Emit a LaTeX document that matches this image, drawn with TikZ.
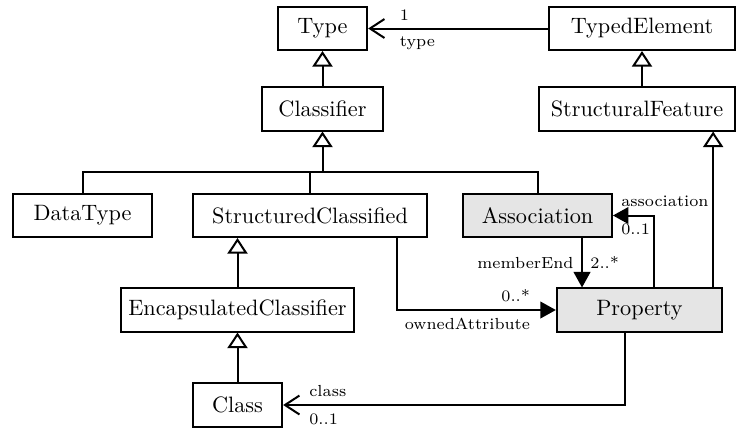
\documentclass[tikz,border=0pt]{standalone}
\usepackage{tikz}
\usetikzlibrary{arrows.meta}

\begin{document}
\begin{tikzpicture}[x=0.0158cm,y=-0.0158cm,
        umlbox/.style={draw,line width=0.9pt,minimum height=0.68cm,inner sep=0pt},
        dark/.style={umlbox,fill=gray!20},
        conn/.style={line width=0.9pt},
        gen/.style={conn,-{Triangle[open,length=7pt,width=9pt,fill=white]}},
        navi/.style={conn,-{Straight Barb[length=6.5pt,width=8.5pt]}},
        fillarr/.style={conn,-{Triangle[length=7pt,width=7.5pt]}},
        lbl/.style={font=\fontsize{7.2pt}{8.6pt}\selectfont}]
    \useasboundingbox (0,0) rectangle (738,428);

    \node[umlbox,minimum width=1.41cm] (type) at (322.5,28.5) {Type};
    \node[umlbox,minimum width=2.94cm] (typedel) at (642,28.5) {TypedElement};
    \node[umlbox,minimum width=1.91cm] (classif) at (322.5,109) {Classifier};
    \node[umlbox,minimum width=3.10cm] (structf) at (637,109) {StructuralFeature};
    \node[umlbox,minimum width=2.20cm] (datatype) at (82.5,215.5) {DataType};
    \node[umlbox,minimum width=3.70cm] (structcl) at (310,215.5) {StructuredClassified};
    \node[dark,minimum width=2.35cm] (assoc) at (537.5,215.5) {Association};
    \node[umlbox,minimum width=3.68cm] (encap) at (237.5,310) {EncapsulatedClassifier};
    \node[dark,minimum width=2.61cm] (prop) at (639.5,310) {Property};
    \node[umlbox,minimum width=1.41cm] (class) at (237.5,405) {Class};

    \coordinate (bus) at (322.5,172);
    \coordinate (sfa) at ([xshift=-0.158cm]prop.north east);
    \coordinate (asa) at ([xshift=0.229cm]prop.north);
    \coordinate (mea) at ([xshift=0.703cm]assoc.south);
    \coordinate (owa) at ([xshift=1.375cm]structcl.south);
    \coordinate (cla) at ([xshift=-0.229cm]prop.south);

    \draw[navi] (typedel.west) -- (type.east)
        node[lbl,pos=0.87,above right] (typemult) {1}
        node[lbl,pos=0.87,below right] (typerole) {type};
    \draw[gen] (classif.north) -- (type.south);
    \draw[gen] (structf.north -| typedel.south) -- (typedel.south);

    \draw[conn] (datatype.north) |- (bus) -| (assoc.north);
    \draw[conn] (structcl.north) -- (structcl.north |- bus);
    \draw[gen] (bus) -- (classif.south);
    \draw[gen] (encap.north) -- (encap.north |- structcl.south);
    \draw[gen] (class.north) -- (encap.south);
    \draw[gen] (sfa) -- (sfa |- structf.south);

    \draw[fillarr] (asa) |- (assoc.east)
        node[lbl,pos=1,above right] (assocrole) {association}
        node[lbl,pos=1,below right] (assocmult) {0..1};
    \draw[fillarr] (mea) -- (mea |- prop.north)
        node[lbl,midway,left] (memrole) {memberEnd}
        node[lbl,midway,right] (memmult) {2..*};
    \draw[fillarr] (owa) |- (prop.west)
        node[lbl,pos=0.945,above left] (ownmult) {0..*}
        node[lbl,pos=0.945,below left] (ownrole) {ownedAttribute};
    \draw[navi] (cla) |- (class.east)
        node[lbl,pos=0.974,above right] (classrole) {class}
        node[lbl,pos=0.974,below right] (classmult) {0..1};
\end{tikzpicture}
\end{document}
